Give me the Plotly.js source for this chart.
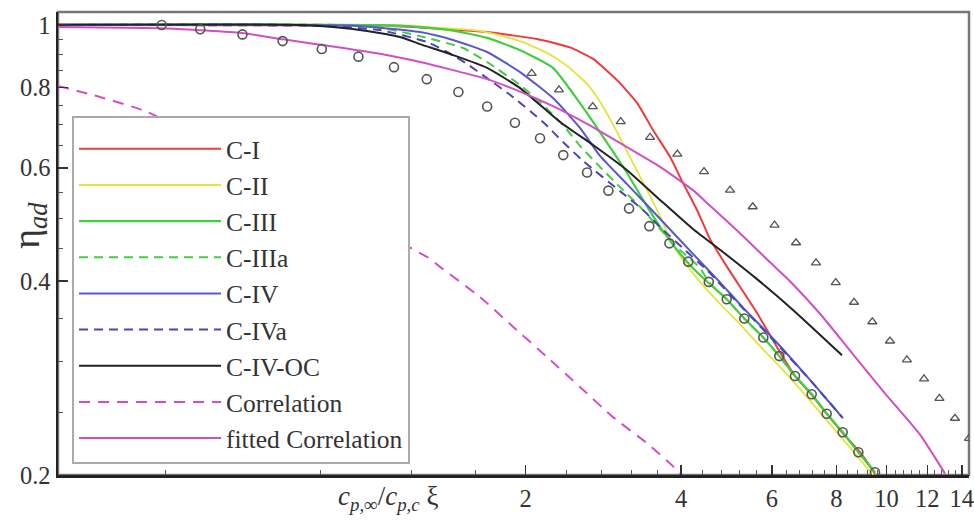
<!DOCTYPE html>
<html>
<head>
<meta charset="utf-8">
<script src="https://cdn.plot.ly/plotly-3.0.1.min.js"></script>
<style>
  html, body { margin: 0; padding: 0; background: #fff; }
  #chart { width: 974px; height: 520px; }
</style>
</head>
<body>
<div id="chart"></div>
<script>
// Adiabatic effectiveness versus scaled blowing parameter (log-log)

// measured points: circles and triangles
const circleX = [0.394, 0.468, 0.565, 0.676, 0.805, 0.948, 1.111, 1.286, 1.481, 1.684, 1.906, 2.132, 2.365, 2.630, 2.892, 3.172, 3.472, 3.797, 4.131, 4.527, 4.904, 5.304, 5.774, 6.201, 6.651, 7.166, 7.661, 8.228, 8.823, 9.504];
const circleY = [1.000, 0.985, 0.967, 0.944, 0.918, 0.893, 0.860, 0.824, 0.787, 0.747, 0.705, 0.667, 0.628, 0.590, 0.553, 0.519, 0.487, 0.458, 0.429, 0.399, 0.375, 0.350, 0.327, 0.306, 0.285, 0.267, 0.249, 0.233, 0.217, 0.202];

const triX = [2.054, 2.320, 2.697, 3.056, 3.483, 3.934, 4.432, 4.977, 5.507, 6.071, 6.681, 7.305, 7.978, 8.655, 9.391, 10.16, 10.96, 11.83, 12.67, 13.58, 14.46];
const triY = [0.841, 0.793, 0.747, 0.708, 0.669, 0.630, 0.592, 0.554, 0.522, 0.489, 0.459, 0.427, 0.398, 0.371, 0.346, 0.323, 0.302, 0.282, 0.263, 0.245, 0.228];

// simulation cases
const c1X = [0.248, 1.044, 1.248, 1.683, 2.103, 2.437, 2.701, 3.006, 3.287, 3.529, 3.808, 4.036, 4.296, 4.552, 4.912, 5.614, 6.138, 6.651, 7.176, 7.671, 8.240, 8.890, 9.504];
const c1Y = [1.000, 0.998, 0.991, 0.975, 0.951, 0.923, 0.886, 0.821, 0.757, 0.687, 0.624, 0.568, 0.516, 0.465, 0.421, 0.357, 0.316, 0.285, 0.266, 0.249, 0.232, 0.217, 0.201];

const c2X = [0.248, 1.141, 1.631, 1.950, 2.199, 2.405, 2.629, 2.786, 3.006, 3.228, 3.437, 3.642, 3.860, 4.072, 4.354, 4.760, 5.203, 5.690, 6.306, 7.112, 8.131, 9.422];
const c2Y = [1.000, 0.998, 0.979, 0.944, 0.905, 0.864, 0.810, 0.760, 0.682, 0.610, 0.554, 0.505, 0.455, 0.427, 0.399, 0.369, 0.343, 0.317, 0.291, 0.261, 0.230, 0.200];

const c3X = [0.248, 1.141, 1.427, 1.683, 1.950, 2.259, 2.515, 2.701, 2.913, 3.143, 3.376, 3.642, 3.932, 4.219, 4.531, 4.904, 5.304, 5.774, 6.201, 6.651, 7.166, 7.661, 8.228, 8.823, 9.504];
const c3Y = [1.000, 0.998, 0.982, 0.955, 0.914, 0.858, 0.767, 0.707, 0.646, 0.589, 0.535, 0.486, 0.447, 0.419, 0.397, 0.375, 0.350, 0.327, 0.306, 0.285, 0.267, 0.249, 0.233, 0.217, 0.202];

const c3aX = [0.248, 0.998, 1.248, 1.512, 1.683, 1.950, 2.132, 2.362, 2.548, 2.786, 3.046, 3.331, 3.642, 3.981, 4.334, 4.552, 4.904, 5.304, 5.774, 6.201, 6.651, 7.166, 7.661, 8.228, 8.823, 9.504];
const c3aY = [1.000, 0.996, 0.961, 0.921, 0.876, 0.807, 0.759, 0.699, 0.649, 0.602, 0.560, 0.522, 0.482, 0.447, 0.421, 0.397, 0.375, 0.350, 0.327, 0.306, 0.285, 0.267, 0.249, 0.233, 0.217, 0.202];

const c4X = [0.248, 0.913, 1.248, 1.446, 1.683, 1.950, 2.259, 2.548, 2.786, 3.143, 3.642, 4.219, 4.697, 5.274, 6.138, 7.112, 8.240];
const c4Y = [1.000, 0.998, 0.975, 0.948, 0.908, 0.845, 0.770, 0.692, 0.626, 0.566, 0.500, 0.441, 0.403, 0.364, 0.321, 0.281, 0.245];

const c4aX = [0.248, 0.835, 1.044, 1.288, 1.408, 1.539, 1.683, 1.865, 2.160, 2.362, 2.583, 3.046, 3.376, 3.674, 4.036, 4.492, 5.203, 6.083, 7.112, 8.204];
const c4aY = [1.000, 0.996, 0.982, 0.941, 0.908, 0.870, 0.827, 0.779, 0.707, 0.658, 0.615, 0.552, 0.516, 0.482, 0.450, 0.416, 0.367, 0.322, 0.281, 0.246];

const c4ocX = [0.248, 0.731, 0.846, 0.985, 1.141, 1.248, 1.446, 1.683, 1.950, 2.331, 2.701, 3.143, 3.642, 4.219, 4.912, 5.614, 6.592, 8.204];
const c4ocY = [1.002, 1.000, 0.993, 0.979, 0.958, 0.934, 0.898, 0.858, 0.798, 0.707, 0.651, 0.595, 0.535, 0.482, 0.439, 0.403, 0.361, 0.307];

// correlations
const corrX = [0.248, 0.299, 0.369, 1.288, 1.365, 1.631, 1.890, 2.199, 2.548, 2.953, 3.437, 3.842, 4.054];
const corrY = [0.804, 0.773, 0.733, 0.436, 0.421, 0.378, 0.340, 0.305, 0.274, 0.246, 0.224, 0.207, 0.197];

const fitX = [0.248, 0.404, 0.564, 0.677, 0.846, 1.044, 1.248, 1.446, 1.683, 1.950, 2.259, 2.629, 3.143, 3.642, 4.219, 4.492, 5.203, 5.950, 6.504, 7.437, 8.617, 10.01, 11.62, 12.99];
const fitY = [0.993, 0.988, 0.972, 0.950, 0.926, 0.902, 0.876, 0.851, 0.824, 0.788, 0.748, 0.702, 0.646, 0.602, 0.554, 0.529, 0.475, 0.428, 0.400, 0.356, 0.308, 0.266, 0.231, 0.201];

// axis ticks
const xTickVals = [2, 4, 6, 8, 10, 12, 14];
const xTickText = ['2', '4', '6', '8', '10', '12', '14'];
const xMinorVals = [0.4, 0.8, 1.2, 1.6, 2.4, 2.8, 3.2, 3.6, 4.4, 4.8, 5.2, 5.6, 6.4, 6.8, 7.2, 7.6, 8.4, 8.8, 9.2, 9.6, 10.4, 10.8, 11.2, 11.6, 12.4, 12.8, 13.2, 13.6, 14.4];
const yTickVals = [0.2, 0.4, 0.6, 0.8, 1];
const yTickText = ['0.2', '0.4', '0.6', '0.8', '1'];
const yMinorVals = [0.25, 0.3, 0.35, 0.45, 0.5, 0.55, 0.65, 0.7, 0.75, 0.85, 0.9, 0.95];

const SERIF = '"Liberation Serif", "Times New Roman", serif';

function curve(name, x, y, color, width, dash) {
  return {
    type: 'scatter', mode: 'lines', name: name, x: x, y: y,
    line: { color: color, width: width, dash: dash || 'solid', shape: 'spline', smoothing: 0.5 }
  };
}

const traces = [
  curve('C-I', c1X, c1Y, '#ee3b3b', 2),
  curve('C-II', c2X, c2Y, '#e4e43a', 1.8),
  curve('C-III', c3X, c3Y, '#44cc44', 2.2),
  curve('C-IIIa', c3aX, c3aY, '#44cc44', 2, '9px,6px'),
  curve('C-IV', c4X, c4Y, '#5858d0', 2),
  curve('C-IVa', c4aX, c4aY, '#4848b0', 2, '9px,6px'),
  curve('C-IV-OC', c4ocX, c4ocY, '#222222', 2),
  curve('Correlation', corrX, corrY, '#d050c4', 2, '11px,8px'),
  curve('fitted Correlation', fitX, fitY, '#d050c4', 2),
  {
    type: 'scatter', mode: 'markers', x: circleX, y: circleY, showlegend: false,
    marker: { symbol: 'circle-open', size: 9, color: '#555', line: { width: 1.6, color: '#555' } }
  },
  {
    type: 'scatter', mode: 'markers', x: triX, y: triY, showlegend: false,
    marker: { symbol: 'triangle-up-open', size: 8, color: '#555', line: { width: 1.3, color: '#555' } }
  }
];

const tickFont = { family: SERIF, size: 24.5, color: '#333' };

const layout = {
  width: 974, height: 520,
  margin: { l: 58, r: 5, t: 12, b: 45 },
  paper_bgcolor: '#fff', plot_bgcolor: '#fff',
  font: { family: SERIF, color: '#333' },
  showlegend: true,
  legend: {
    x: 0.0154, y: 0.7754, xanchor: 'left', yanchor: 'top',
    bgcolor: '#fff', bordercolor: '#aaa', borderwidth: 2,
    font: { family: SERIF, size: 25.5, color: '#333' },
    title: { text: '\u00a0', font: { family: SERIF, size: 6 } },
    itemwidth: 142, tracegroupgap: 0
  },
  xaxis: {
    type: 'log', range: [-0.6054, 1.1601],
    tickmode: 'array', tickvals: xTickVals, ticktext: xTickText,
    ticks: 'inside', ticklen: 10, tickwidth: 1.5, tickcolor: '#333',
    minor: { tickmode: 'array', tickvals: xMinorVals, ticks: 'inside', ticklen: 5, tickwidth: 1, tickcolor: '#555' },
    showline: true, linecolor: '#222', linewidth: 2.5,
    showgrid: false, zeroline: false,
    ticklabeloverflow: 'allow',
    tickfont: tickFont
  },
  yaxis: {
    type: 'log', range: [-0.69897, 0.0202],
    tickmode: 'array', tickvals: yTickVals, ticktext: yTickText,
    ticks: 'inside', ticklen: 10, tickwidth: 1.5, tickcolor: '#333',
    minor: { tickmode: 'array', tickvals: yMinorVals, ticks: 'inside', ticklen: 5, tickwidth: 1, tickcolor: '#555' },
    showline: true, linecolor: '#222', linewidth: 2.5,
    showgrid: false, zeroline: false,
    ticklabeloverflow: 'allow',
    tickfont: tickFont
  },
  shapes: [
    { type: 'rect', xref: 'paper', yref: 'paper', x0: 0, x1: 1, y0: 0, y1: 1,
      line: { color: '#777', width: 2.5 }, layer: 'below' }
  ],
  annotations: [
    { xref: 'paper', yref: 'paper', x: 0.3622, y: -0.05, xanchor: 'center', yanchor: 'middle',
      showarrow: false, font: { family: SERIF, size: 27, color: '#333' },
      text: '<i>c</i><sub><i>p,∞</i></sub>/<i>c</i><sub><i>p,c</i></sub> ξ' },
    { xref: 'paper', yref: 'paper', x: -0.032, y: 0.54, xanchor: 'center', yanchor: 'middle',
      showarrow: false, textangle: -90, font: { family: SERIF, size: 38, color: '#333' },
      text: 'η<sub><i>ad</i></sub>' }
  ]
};

Plotly.newPlot('chart', traces, layout, { displayModeBar: false, staticPlot: true });
</script>
</body>
</html>
